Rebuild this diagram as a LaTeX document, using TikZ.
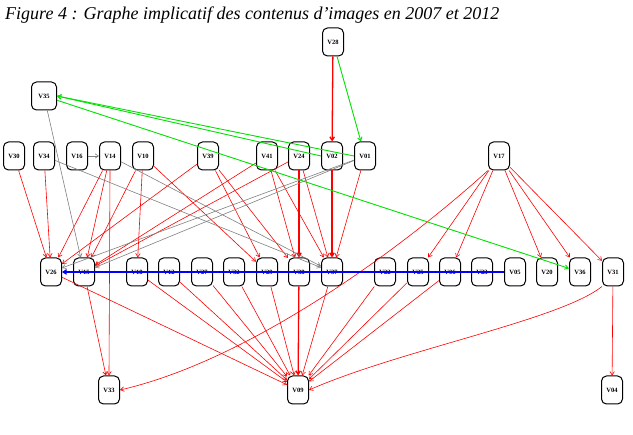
\documentclass[tikz,border=0pt]{standalone}
\usepackage{fontspec}
\setmainfont{Liberation Serif}
\usetikzlibrary{arrows.meta}
\begin{document}
\begin{tikzpicture}[x=1pt,y=-1pt,
  vbox/.style={draw, line width=1pt, rounded corners=5pt, minimum width=21pt, minimum height=28pt, inner sep=0pt, fill=white, font=\fontsize{6.5}{7}\selectfont\bfseries},
  tipend/.style={-{Straight Barb[length=3.5pt,width=4.5pt]}},
  redE/.style={tipend, draw=red, line width=0.6pt},
  redT/.style={tipend, draw=red, line width=1.3pt},
  greenE/.style={tipend, draw={rgb,255:red,0;green,225;blue,0}, line width=0.9pt},
  greyE/.style={tipend, draw=gray, line width=0.6pt},
  blueE/.style={tipend, draw=blue, line width=1.2pt}]
\useasboundingbox (0,0) rectangle (633,435);
\node[anchor=base west, inner sep=0pt, font=\fontsize{18}{20}\selectfont\itshape] (title) at (5,20) {Figure 4 : Graphe implicatif des contenus d’images en 2007 et 2012};
% top
\node[vbox] (V28) at (333,42) {V28};
\node[vbox, minimum width=25pt] (V35) at (44,96) {V35};
% row 2
\node[vbox] (V30) at (14,156) {V30};
\node[vbox] (V34) at (44,156) {V34};
\node[vbox] (V16) at (77,156) {V16};
\node[vbox] (V14) at (110,156) {V14};
\node[vbox] (V10) at (143,156) {V10};
\node[vbox] (V39) at (208,156) {V39};
\node[vbox] (V41) at (267,156) {V41};
\node[vbox] (V24) at (299,156) {V24};
\node[vbox] (V02) at (332,156) {V02};
\node[vbox] (V01) at (365,156) {V01};
\node[vbox] (V17) at (499,156) {V17};
% row 3
\node[vbox] (V26) at (51,272) {V26};
\node[vbox] (V15) at (84,272) {V15};
\node[vbox] (V18) at (137,272) {V18};
\node[vbox] (V12) at (169,272) {V12};
\node[vbox] (V27) at (202,272) {V27};
\node[vbox] (V32) at (234,272) {V32};
\node[vbox] (V29) at (267,272) {V29};
\node[vbox] (V38) at (299,272) {V38};
\node[vbox] (V37) at (332,272) {V37};
\node[vbox] (V22) at (385,272) {V22};
\node[vbox] (V25) at (418,272) {V25};
\node[vbox] (V06) at (450,272) {V06};
\node[vbox] (V23) at (482,272) {V23};
\node[vbox] (V05) at (515,272) {V05};
\node[vbox] (V20) at (547,272) {V20};
\node[vbox] (V36) at (580,272) {V36};
\node[vbox] (V31) at (613,272) {V31};
% bottom
\node[vbox] (V33) at (109,390) {V33};
\node[vbox] (V09) at (298,390) {V09};
\node[vbox] (V04) at (612,390) {V04};
% red thick
\draw[redT] (V28) -- (V02);
\draw[redT] (V24) -- (V38);
\draw[redT] (V02) -- (V37);
\draw[redT] (V38) -- (V09);
% red thin, row 2 to row 3
\draw[redE] (V30) -- (V26);
\draw[redE] (V34) -- (V26);
\draw[redE] (V14) -- (V26);
\draw[redE] (V14) -- (V15);
\draw[redE] (V14.south) -- (V33.north);
\draw[redE] (V10) -- (V15);
\draw[redE] (V10) -- (V18);
\draw[redE] (V10) -- (V29);
\draw[redE] (V39) -- (V26);
\draw[redE] (V39) -- (V29);
\draw[redE] (V39) -- (V38);
\draw[redE] (V41) -- (V15);
\draw[redE] (V41) -- (V38);
\draw[redE] (V41) -- (V37);
\draw[redE] (V24) -- (V15);
\draw[redE] (V24) -- (V37);
\draw[redE] (V01) -- (V37);
\draw[redE] (V17) -- (V25);
\draw[redE] (V17) -- (V06);
\draw[redE] (V17) -- (V20);
\draw[redE] (V17) -- (V36);
\draw[redE] (V17) -- (V31);
\draw[redE] (V17.south west) .. controls (400,250) and (250,360) .. (V33.east);
% row 3 to bottom
\draw[redE] (V15) -- (V33);
\draw[redE] (V26) -- (V09);
\draw[redE] (V18) -- (V09);
\draw[redE] (V12) -- (V09);
\draw[redE] (V27) -- (V09);
\draw[redE] (V32) -- (V09);
\draw[redE] (V29) -- (V09);
\draw[redE] (V37) -- (V09);
\draw[redE] (V22) -- (V09);
\draw[redE] (V25) -- (V09);
\draw[redE] (V06) -- (V09);
\draw[redE] (V31.south west) .. controls (560,320) and (400,350) .. (V09.east);
\draw[redE] (V31) -- (V04);
% green
\draw[greenE] (V28) -- (V01);
\draw[greenE] (V02.west) -- (V35.east);
\draw[greenE] (V01.west) -- (V35.east);
\draw[greenE] (V35) -- (V36);
% grey
\draw[greyE] (V35) -- (V15);
\draw[greyE] (V34) -- (V37);
\draw[greyE] (V14) -- (V37);
\draw[greyE] (V16) -- (V14);
\draw[greyE] (V01) -- (V26);
\draw[greyE] (V01) -- (V15);
% blue
\draw[blueE] (V05) -- (V26);
\end{tikzpicture}
\end{document}
